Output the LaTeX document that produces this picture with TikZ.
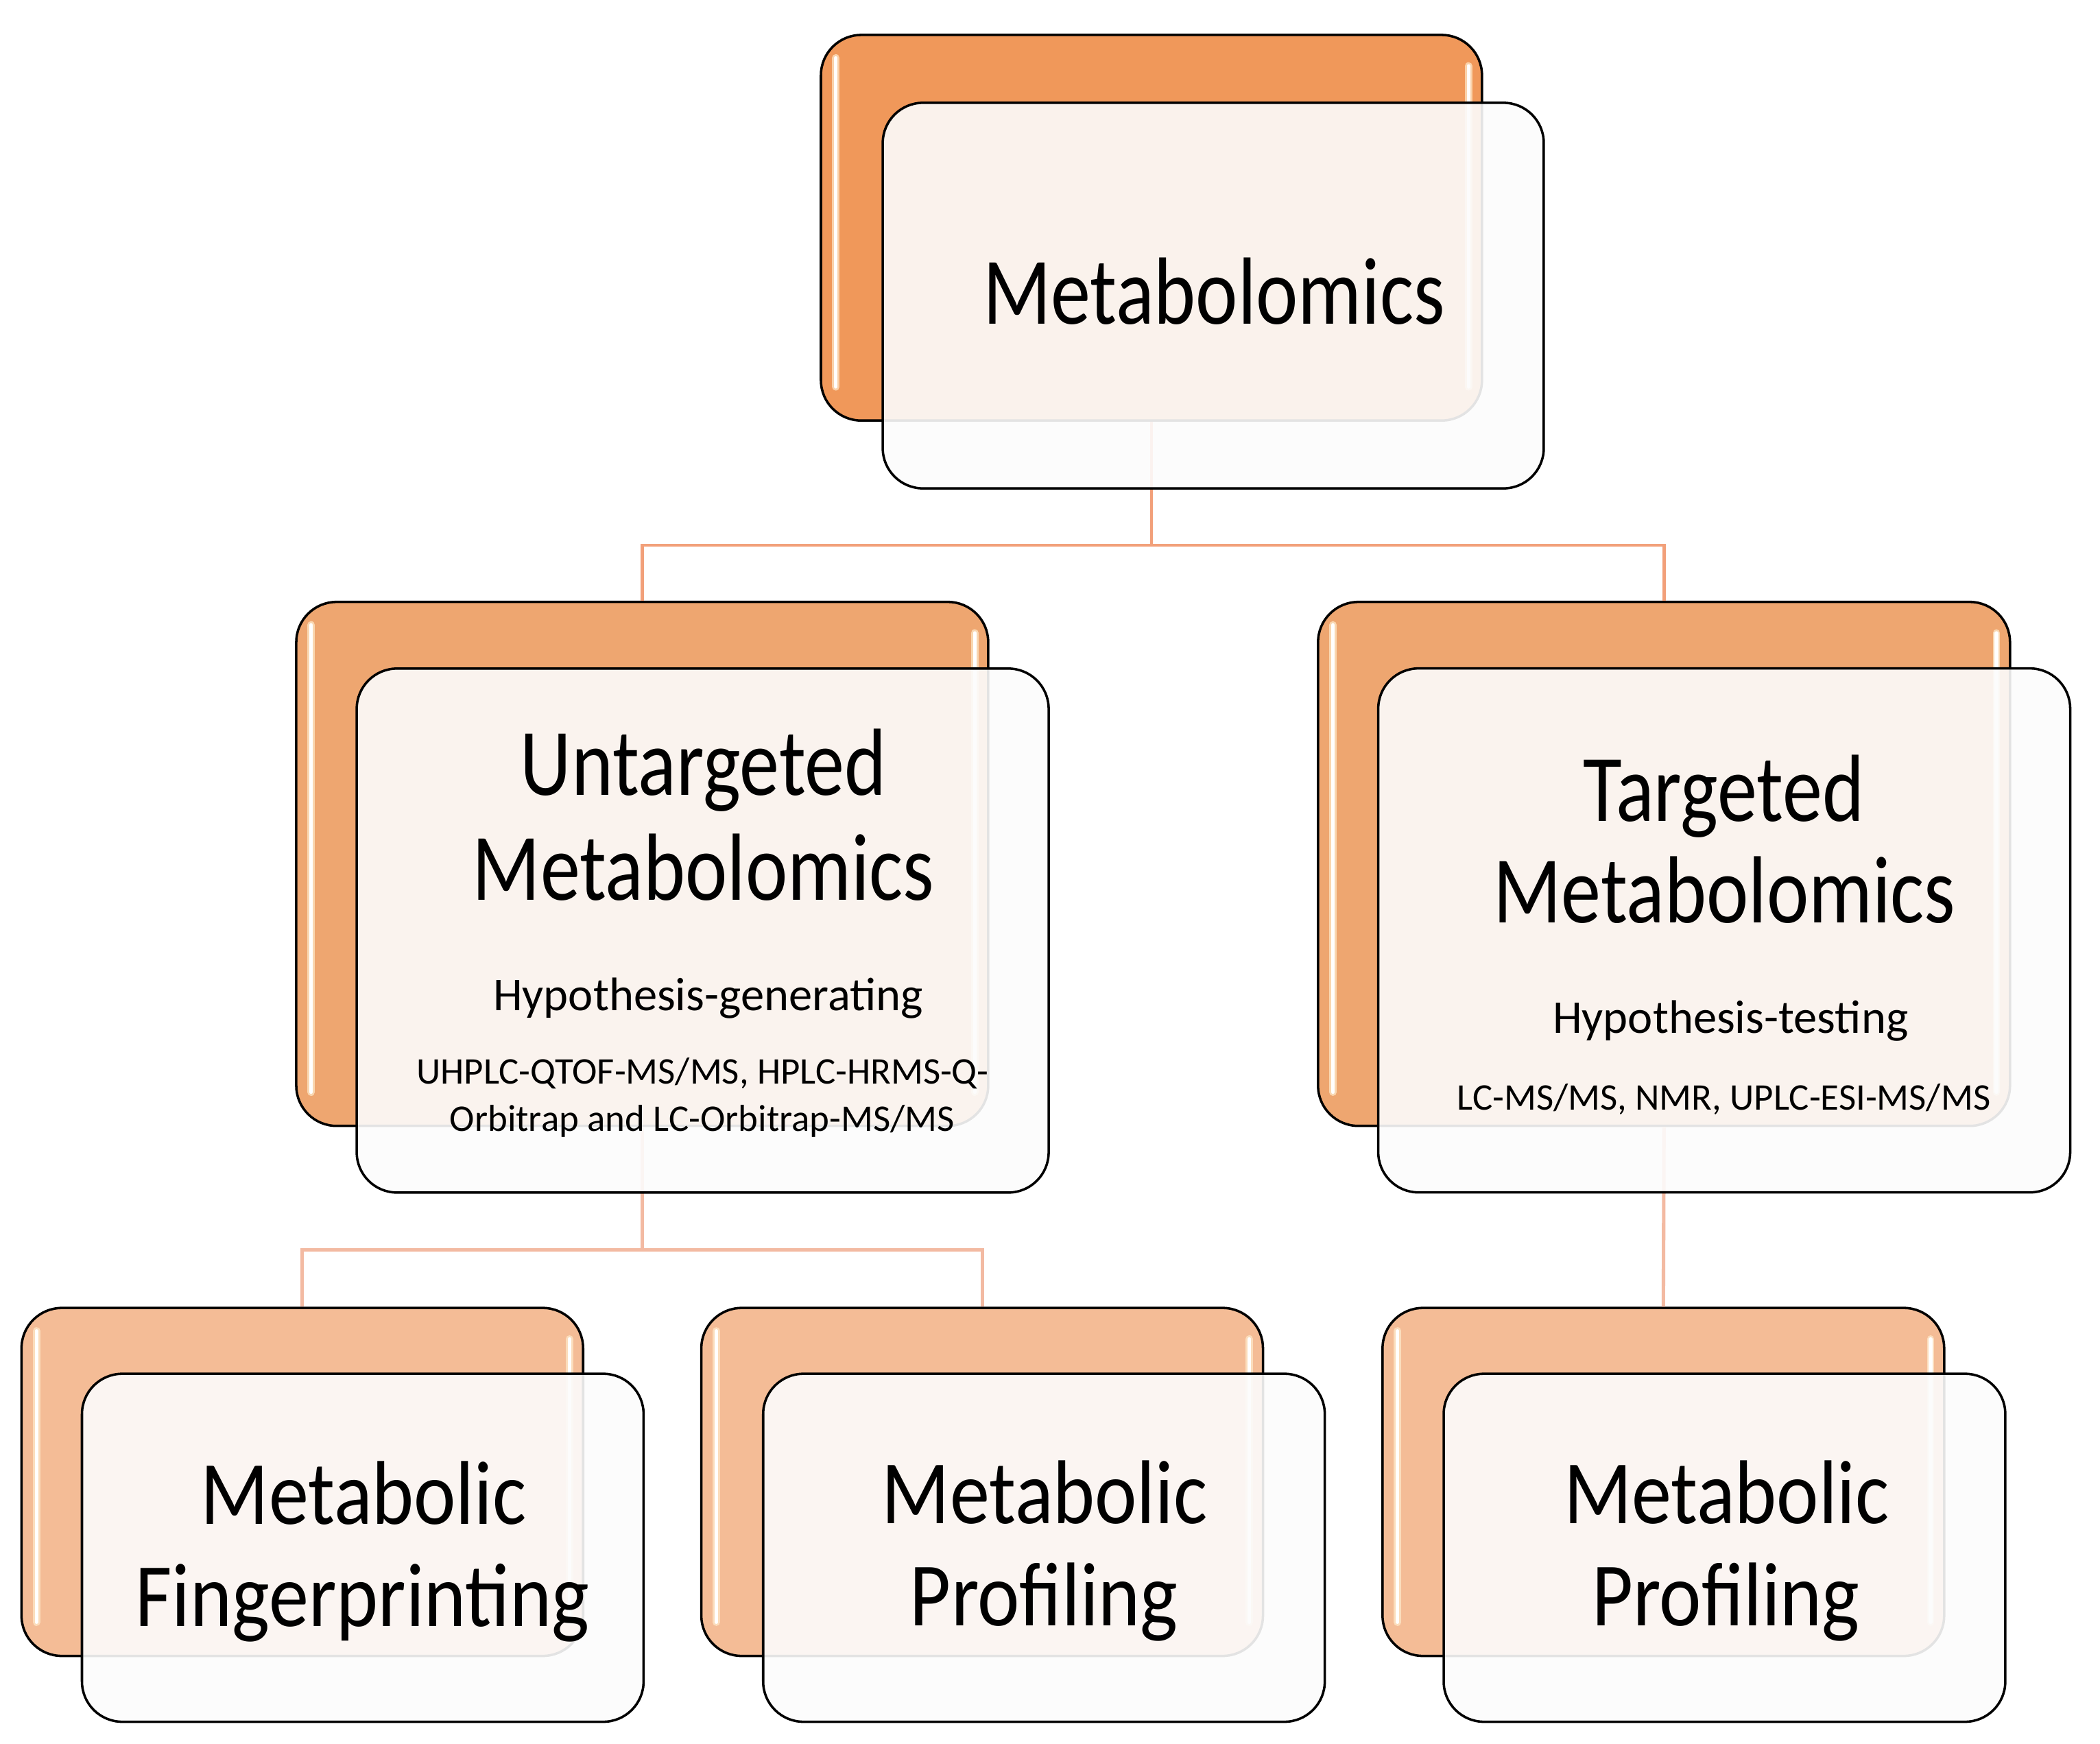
\documentclass[tikz,border=0pt]{standalone}
\usepackage{fontspec}
\setmainfont{Carlito}
\newfontfamily\titlefont[FakeStretch=0.835]{Carlito}
\newfontfamily\titlefontb[FakeStretch=0.88]{Carlito}
\definecolor{orA}{RGB}{240,152,90}
\definecolor{orB}{RGB}{238,166,112}
\definecolor{orC}{RGB}{244,188,150}
\definecolor{lnA}{RGB}{242,160,122}
\definecolor{lnB}{RGB}{243,186,162}
\definecolor{frontfill}{RGB}{252,252,252}
\definecolor{glowc}{RGB}{255,236,205}
\begin{document}
\begin{tikzpicture}[x=0.5pt,y=-0.5pt,
  backbox/.style={draw=black, line width=0.9pt, rounded corners=15pt, inner sep=0pt},
  frontbox/.style={draw=black, line width=0.9pt, rounded corners=15pt, inner sep=0pt,
                   fill=frontfill, fill opacity=0.9},
  lvlA/.style={minimum width=246pt, minimum height=143.5pt},
  lvlB/.style={minimum width=257.5pt, minimum height=195pt},
  lvlC/.style={minimum width=209pt, minimum height=129.5pt},
  gloss/.style={glowc, line width=2.8pt, opacity=0.7, line cap=round},
  glosscore/.style={white, line width=1.3pt, line cap=round},
  conA/.style={draw=lnA, line width=1.2pt},
  conB/.style={draw=lnB, line width=1.3pt},
  titleA/.style={font=\titlefont\fontsize{35.5}{38}\selectfont, inner sep=0pt, anchor=base},
  titleC/.style={font=\titlefontb\fontsize{33.7}{36}\selectfont, inner sep=0pt, anchor=base},
  subt/.style={font=\fontsize{17.5}{20}\selectfont, inner sep=0pt, anchor=base},
  tech/.style={font=\fontsize{14}{17}\selectfont, inner sep=0pt, anchor=base}
]
\useasboundingbox (0,0) rectangle (1563,1298);

% back boxes
\node[backbox, lvlA, fill=orA] (bT) at (857,169.5) {};
\node[backbox, lvlB, fill=orB] (bL) at (478,643) {};
\node[backbox, lvlB, fill=orB] (bR) at (1238.5,643) {};
\node[backbox, lvlC, fill=orC] (bBL) at (225,1103) {};
\node[backbox, lvlC, fill=orC] (bBM) at (731,1103) {};
\node[backbox, lvlC, fill=orC] (bBR) at (1238,1103) {};

% glossy highlights
\foreach \n in {bT,bL,bR,bBL,bBM,bBR}{
  \draw[gloss] ([xshift=6pt,yshift=-9pt]\n.north west) -- ([xshift=6pt,yshift=13pt]\n.south west);
  \draw[glosscore] ([xshift=6pt,yshift=-9pt]\n.north west) -- ([xshift=6pt,yshift=13pt]\n.south west);
  \draw[gloss] ([xshift=-5.5pt,yshift=-12pt]\n.north east) -- ([xshift=-5.5pt,yshift=13pt]\n.south east);
  \draw[glosscore] ([xshift=-5.5pt,yshift=-12pt]\n.north east) -- ([xshift=-5.5pt,yshift=13pt]\n.south east);
}

% connectors
\coordinate (j1) at (857,405.8);
\coordinate (j2) at (478,930.5);
\draw[conA] (bT.south) -- (j1);
\draw[conA] (j1) -| (bL.north);
\draw[conA] (j1) -| (bR.north);
\draw[conB] (bL.south) -- (j2);
\draw[conB] (j2) -| (bBL.north);
\draw[conB] (j2) -| (bBM.north);
\draw[conB] (bR.south) -- (bBR.north);

% front boxes
\node[frontbox, lvlA] (fT) at (903,220) {};
\node[frontbox, lvlB] (fL) at (523,692.6) {};
\node[frontbox, lvlB] (fR) at (1283.3,692.5) {};
\node[frontbox, lvlC] (fBL) at (270,1152) {};
\node[frontbox, lvlC] (fBM) at (777,1152) {};
\node[frontbox, lvlC] (fBR) at (1283.5,1152) {};

% texts
\node[titleA] (tT) at (903.5,241) {Metabolomics};

\node[titleA] (tL1) at (523.5,591.6) {Untargeted};
\node[titleA] (tL2) at (523.5,669.7) {Metabolomics};
\node[subt] (tL3) at (527,752) {Hypothesis-generating};
\node[tech] (tL4) at (523,807) {UHPLC-QTOF-MS/MS, HPLC-HRMS-Q-};
\node[tech] (tL5) at (522.6,842) {Orbitrap and LC-Orbitrap-MS/MS};

\node[titleA] (tR1) at (1283,611) {Targeted};
\node[titleA] (tR2) at (1283.5,687) {Metabolomics};
\node[subt] (tR3) at (1288,769) {Hypothesis-testing};
\node[tech] (tR4) at (1283,826) {LC-MS/MS, NMR, UPLC-ESI-MS/MS};

\node[titleC] (tBL1) at (270.6,1134.5) {Metabolic};
\node[titleC] (tBL2) at (269.7,1210.4) {Fingerprinting};
\node[titleC] (tBM1) at (777.5,1134) {Metabolic};
\node[titleC] (tBM2) at (777,1210) {Profiling};
\node[titleC] (tBR1) at (1285,1134) {Metabolic};
\node[titleC] (tBR2) at (1284.5,1210) {Profiling};
\end{tikzpicture}
\end{document}
